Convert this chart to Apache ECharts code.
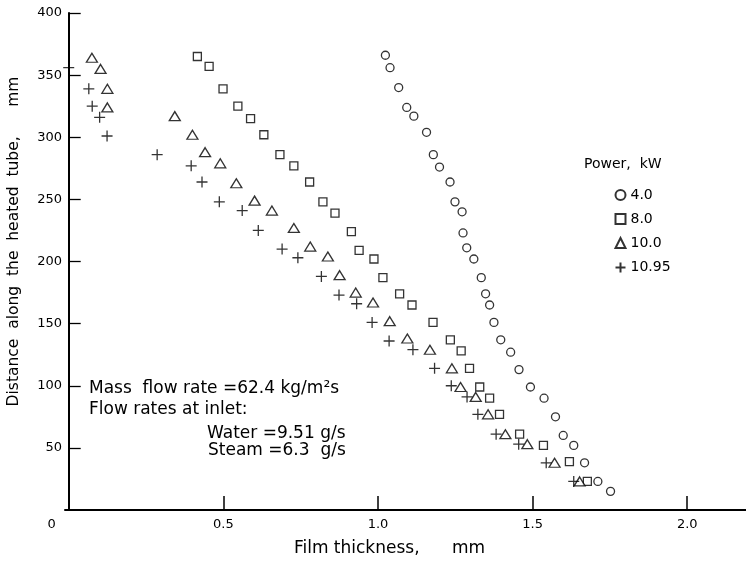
<!DOCTYPE html>
<html>
<head>
<meta charset="utf-8">
<script src="https://cdn.jsdelivr.net/npm/echarts@6/dist/echarts.min.js"></script>
<style>html,body{margin:0;padding:0;background:#fff}#c{width:746px;height:563px}</style>
</head>
<body>
<div id="c"></div>
<script>
// Series names (power, kW)
const seriesNames = ['4.0', '8.0', '10.0', '10.95'];
// Film thickness (mm) and distance along the heated tube (mm)
const p40x = [1.024,1.039,1.067,1.093,1.116,1.157,1.179,1.199,1.233,1.249,1.272,1.275,1.287,1.310,1.334,1.348,1.361,1.375,1.397,1.429,1.456,1.493,1.537,1.574,1.599,1.633,1.668,1.711,1.752];
const p40y = [366,356,340,324,317,304,286,276,264,248,240,223,211,202,187,174,165,151,137,127,113,99,90,75,60,52,38,23,15];
const p80x = [0.416,0.454,0.499,0.547,0.588,0.631,0.683,0.728,0.779,0.822,0.861,0.914,0.939,0.987,1.016,1.070,1.110,1.178,1.234,1.269,1.296,1.329,1.361,1.393,1.458,1.535,1.619,1.677];
const p80y = [365,357,339,325,315,302,286,277,264,248,239,224,209,202,187,174,165,151,137,128,114,99,90,77,61,52,39,23];
const p100x = [0.075,0.103,0.125,0.125,0.343,0.400,0.441,0.490,0.542,0.601,0.657,0.728,0.781,0.838,0.876,0.928,0.984,1.038,1.095,1.168,1.239,1.267,1.316,1.356,1.412,1.483,1.571,1.652];
const p100y = [364,355,339,324,317,302,288,279,263,249,241,227,212,204,189,175,167,152,138,129,114,99,91,77,61,53,38,23];
const p1095x = [0.000,0.065,0.076,0.100,0.124,0.286,0.396,0.431,0.487,0.561,0.613,0.690,0.741,0.817,0.874,0.931,0.981,1.036,1.113,1.183,1.237,1.288,1.323,1.382,1.455,1.544,1.633];
const p1095y = [356,339,325,316,301,286,277,264,248,241,225,210,203,188,173,166,151,136,129,114,100,91,77,61,53,38,23];
// Axis tick labels
const xTickLabels = [0, 0.5, 1.0, 1.5, 2.0];
const xTickMarks = [0.5, 1.0, 1.5, 2.0];
const yTickLabels = [50, 100, 150, 200, 250, 300, 350, 400];

const FONT = 'DejaVu Sans';
const zip = (xs, ys) => xs.map((x, i) => [x, ys[i]]);
const baseStyle = { color: '#fff', borderColor: '#000', borderWidth: 1.3 };
const textFont = '17px "DejaVu Sans"';

const chart = echarts.init(document.getElementById('c'), null, { renderer: 'canvas' });
chart.setOption({
  animation: false,
  backgroundColor: '#fff',
  grid: { left: 65, right: 0, top: 13, bottom: 53, containLabel: false, outerBoundsMode: 'none' },
  title: {
    text: 'Power,  kW', left: 584, top: 157, padding: 0,
    textStyle: { fontFamily: FONT, fontSize: 14, fontWeight: 'normal', color: '#000' }
  },
  legend: {
    orient: 'vertical', left: 613, top: 188, padding: 0, itemWidth: 10, itemHeight: 10, itemGap: 10,
    textStyle: { fontFamily: FONT, fontSize: 14, color: '#000' },
    data: seriesNames
  },
  xAxis: {
    type: 'value', min: -0.012, max: 2.19,
    name: 'Film thickness,      mm', nameLocation: 'middle', nameGap: 30,
    nameTextStyle: { fontFamily: FONT, fontSize: 17, color: '#000', padding: [0, 32, 0, 0] },
    axisLine: { show: true, lineStyle: { color: '#000', width: 2 } },
    axisTick: { show: true, inside: true, length: 14, customValues: xTickMarks, lineStyle: { color: '#000', width: 1.5 } },
    axisLabel: {
      customValues: xTickLabels, margin: 8, color: '#000', fontFamily: FONT, fontSize: 13,
      formatter: v => v === 0 ? '{z|0}' : v.toFixed(1),
      rich: { z: { padding: [0, 34, 0, 0], fontFamily: FONT, fontSize: 13, color: '#000' } }
    },
    splitLine: { show: false }
  },
  yAxis: {
    type: 'value', min: 0, max: 400, interval: 50,
    name: 'Distance  along  the  heated  tube,      mm', nameLocation: 'middle', nameGap: 43,
    nameTextStyle: { fontFamily: FONT, fontSize: 15.5, color: '#000', padding: [0, 0, 0, 40] },
    axisLine: { show: true, lineStyle: { color: '#000', width: 2 } },
    axisTick: { show: true, inside: true, length: 12, customValues: yTickLabels, lineStyle: { color: '#000', width: 1.3 } },
    axisLabel: { customValues: yTickLabels, margin: 3, color: '#000', fontFamily: FONT, fontSize: 13 },
    splitLine: { show: false }
  },
  graphic: [
    { type: 'text', left: 89, top: 380, style: { text: 'Mass  flow rate =62.4 kg/m\u00B2s', font: textFont, fill: '#000' } },
    { type: 'text', left: 89, top: 401, style: { text: 'Flow rates at inlet:', font: textFont, fill: '#000' } },
    { type: 'text', left: 207, top: 425, style: { text: 'Water =9.51 g/s', font: textFont, fill: '#000' } },
    { type: 'text', left: 208, top: 442, style: { text: 'Steam =6.3  g/s', font: textFont, fill: '#000' } }
  ],
  series: [
    { name: seriesNames[0], type: 'scatter', symbol: 'circle', symbolSize: 8, itemStyle: baseStyle, data: zip(p40x, p40y) },
    { name: seriesNames[1], type: 'scatter', symbol: 'rect', symbolSize: 8, itemStyle: baseStyle, data: zip(p80x, p80y) },
    { name: seriesNames[2], type: 'scatter', symbol: 'triangle', symbolSize: [11, 9], itemStyle: baseStyle, data: zip(p100x, p100y) },
    { name: seriesNames[3], type: 'scatter', symbol: 'path://M0,5L10,5M5,0L5,10', symbolSize: 11,
      itemStyle: { color: 'none', borderColor: '#000', borderWidth: 1.3 }, data: zip(p1095x, p1095y) }
  ]
});
</script>
</body>
</html>
